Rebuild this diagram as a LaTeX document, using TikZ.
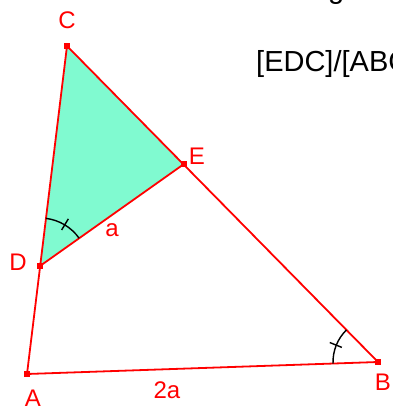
\documentclass[tikz,border=0pt]{standalone}
\usepackage{fontspec}
\setmainfont{Liberation Sans}
\usepackage{xcolor}
\usetikzlibrary{angles}
\definecolor{aqua}{RGB}{128,250,208}
\tikzset{
  pt/.style={fill=red,inner sep=0pt,minimum size=5.5pt},
  lab/.style={red,font=\fontsize{24}{28}\selectfont},
  side/.style={red,line width=1.8pt},
  anglemark/.style={black,line width=1.4pt}
}

\begin{document}
\begin{tikzpicture}[x=1pt,y=1pt]
    \useasboundingbox (0,0) rectangle (392,408);
        % points
        \coordinate (A) at (27,34);
        \coordinate (B) at (378,46);
        \coordinate (C) at (67,362);
        \coordinate (D) at (40,142);
        \coordinate (E) at (184,244);
        \fill[aqua] (C)--(D)--(E)--cycle;
        \draw[side] (A)--(B)--(C)--cycle;
        \draw[side] (D)--(E);
        % angle marks
        \draw[anglemark] pic[draw,angle radius=48pt] {angle=E--D--C};
        \draw[anglemark] pic[draw,angle radius=45pt] {angle=C--B--A};
        \draw[anglemark,shift={(D)}] (59:42)--(59:55);
        \draw[anglemark,shift={(B)}] (158:39)--(158:52);
        \foreach \p in {A,B,C,D,E} \node[pt] (p\p) at (\p) {};
        \node[lab] (lA) at (33,10) {A};
        \node[lab] (lB) at (383,26) {B};
        \node[lab] (lC) at (67,388) {C};
        \node[lab] (lD) at (18,146) {D};
        \node[lab] (lE) at (197,252) {E};
        \node[lab] (la) at (112,178) {a};
        \node[lab] (l2a) at (167,18) {2a};
        \node[anchor=base west,font=\fontsize{29}{34}\selectfont,inner sep=0pt] (ratio) at (256,336) {[EDC]/[ABC]};
        \node[anchor=base west,font=\fontsize{29}{34}\selectfont,inner sep=0pt] (top) at (328,409) {g};
    \end{tikzpicture}
\end{document}
